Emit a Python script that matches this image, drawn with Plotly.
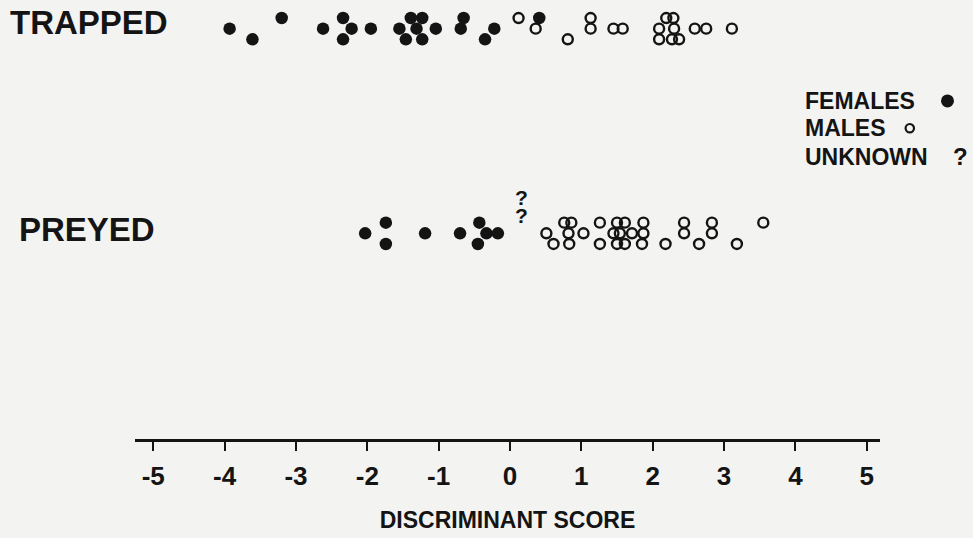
import plotly.graph_objects as go

# ---------------- data ----------------
row_names = ["TRAPPED", "PREYED"]

trapped_female_score = [-3.93, -3.61, -3.20, -2.62, -2.34, -2.34, -2.22, -1.95, -1.55, -1.46,
                        -1.39, -1.31, -1.23, -1.23, -1.04, -0.69, -0.65, -0.35, -0.22, 0.41]
trapped_female_stack = [0, -1, 1, 0, 1, -1, 0, 0, 0, -1,
                        1, 0, 1, -1, 0, 0, 1, -1, 0, 1]

trapped_male_score = [0.12, 0.36, 0.81, 1.13, 1.13, 1.45, 1.58, 2.09, 2.09, 2.19,
                      2.27, 2.29, 2.30, 2.37, 2.59, 2.75, 3.11]
trapped_male_stack = [1, 0, -1, 1, 0, 0, 0, 0, -1, 1,
                      -1, 1, 0, -1, 0, 0, 0]

preyed_female_score = [-2.03, -1.74, -1.74, -1.19, -0.70, -0.45, -0.43, -0.33, -0.17]
preyed_female_stack = [0, 1, -1, 0, 0, -1, 1, 0, 0]

preyed_male_score = [0.51, 0.61, 0.76, 0.82, 0.83, 0.86, 1.03, 1.26, 1.26, 1.45,
                     1.50, 1.50, 1.54, 1.61, 1.61, 1.71, 1.85, 1.87, 1.87, 2.18,
                     2.44, 2.44, 2.65, 2.83, 2.83, 3.18, 3.55]
preyed_male_stack = [0, -1, 1, 0, -1, 1, 0, 1, -1, 0,
                     1, -1, 0, 1, -1, 0, -1, 1, 0, -1,
                     1, 0, -1, 1, 0, -1, 1]

preyed_unknown_score = [0.16, 0.16]
preyed_unknown_stack = [3.2, 1.5]

tick_values = [-5, -4, -3, -2, -1, 0, 1, 2, 3, 4, 5]
tick_labels = ["-5", "-4", "-3", "-2", "-1", "0", "1", "2", "3", "4", "5"]

legend_labels = ["FEMALES", "MALES", "UNKNOWN"]

# ---------------- layout helpers ----------------
ROW_Y = {"TRAPPED": 2.0, "PREYED": 1.0}
STEP = 0.052
INK = "#141414"
BG = "#f3f3f1"
FONT = "Liberation Sans, Arial, Helvetica, sans-serif"


def ys(row, stack):
    return [ROW_Y[row] + s * STEP for s in stack]


filled = dict(symbol="circle", size=12.5, color=INK, line=dict(width=0))
hollow = dict(symbol="circle-open", size=10, color=INK, line=dict(width=2.4, color=INK))

fig = go.Figure()
fig.add_trace(go.Scatter(x=trapped_female_score, y=ys("TRAPPED", trapped_female_stack),
                         mode="markers", marker=filled, name="FEMALES", cliponaxis=False))
fig.add_trace(go.Scatter(x=trapped_male_score, y=ys("TRAPPED", trapped_male_stack),
                         mode="markers", marker=hollow, name="MALES", cliponaxis=False))
fig.add_trace(go.Scatter(x=preyed_female_score, y=ys("PREYED", preyed_female_stack),
                         mode="markers", marker=filled, name="FEMALES", cliponaxis=False))
fig.add_trace(go.Scatter(x=preyed_male_score, y=ys("PREYED", preyed_male_stack),
                         mode="markers", marker=hollow, name="MALES", cliponaxis=False))
fig.add_trace(go.Scatter(x=preyed_unknown_score, y=ys("PREYED", preyed_unknown_stack),
                         mode="text", text=["?"] * len(preyed_unknown_score),
                         textposition="middle center",
                         textfont=dict(family=FONT, size=21, color=INK, weight="bold"),
                         name="UNKNOWN", cliponaxis=False))

annotations = []
# row labels
label_pos = {"TRAPPED": (-0.1705, 6), "PREYED": (-0.158, 4)}
for r in row_names:
    px, shift = label_pos[r]
    annotations.append(dict(x=px, xref="paper", y=ROW_Y[r], yref="y", text=r,
                            xanchor="left", yanchor="middle", yshift=shift, showarrow=False,
                            font=dict(family=FONT, size=33, color=INK, weight="bold")))

# legend (text first, key after it, as in the reference)
leg_y = [0.770, 0.708, 0.643]
for lab, yy in zip(legend_labels, leg_y):
    annotations.append(dict(x=0.8965, xref="paper", y=yy, yref="paper", text=lab,
                            xanchor="left", yanchor="middle", showarrow=False,
                            font=dict(family=FONT, size=23, color=INK, weight="bold")))
annotations.append(dict(x=1.1075, xref="paper", y=leg_y[2], yref="paper", text="?",
                        xanchor="center", yanchor="middle", showarrow=False,
                        font=dict(family=FONT, size=24, color=INK, weight="bold")))

shapes = [
    dict(type="circle", xref="paper", yref="paper", xsizemode="pixel", ysizemode="pixel",
         xanchor=1.0906, yanchor=leg_y[0], x0=-6.5, x1=6.5, y0=-6.5, y1=6.5,
         fillcolor=INK, line=dict(width=0)),
    dict(type="circle", xref="paper", yref="paper", xsizemode="pixel", ysizemode="pixel",
         xanchor=1.0400, yanchor=leg_y[1], x0=-4.2, x1=4.2, y0=-4.2, y1=4.2,
         fillcolor="rgba(0,0,0,0)", line=dict(width=2.2, color=INK)),
]

fig.update_layout(
    width=973, height=538,
    margin=dict(l=135, r=93, t=0, b=99, autoexpand=False),
    paper_bgcolor=BG, plot_bgcolor=BG,
    showlegend=False,
    annotations=annotations,
    shapes=shapes,
    xaxis=dict(range=[-5.256, 5.186], tickvals=tick_values, ticktext=tick_labels,
               showline=True, linewidth=2.5, linecolor=INK,
               ticks="outside", ticklen=9, tickwidth=2, tickcolor=INK,
               ticklabelstandoff=3,
               showgrid=False, zeroline=False, fixedrange=True,
               tickfont=dict(family=FONT, size=26, color=INK, weight="bold"),
               title=dict(text="DISCRIMINANT SCORE", standoff=22,
                          font=dict(family=FONT, size=23, color=INK, weight="bold"))),
    yaxis=dict(range=[-0.005, 2.140], visible=False, fixedrange=True),
)

fig.write_html("out.html", config={"displayModeBar": False},
               post_script="document.body.style.margin='0';")
